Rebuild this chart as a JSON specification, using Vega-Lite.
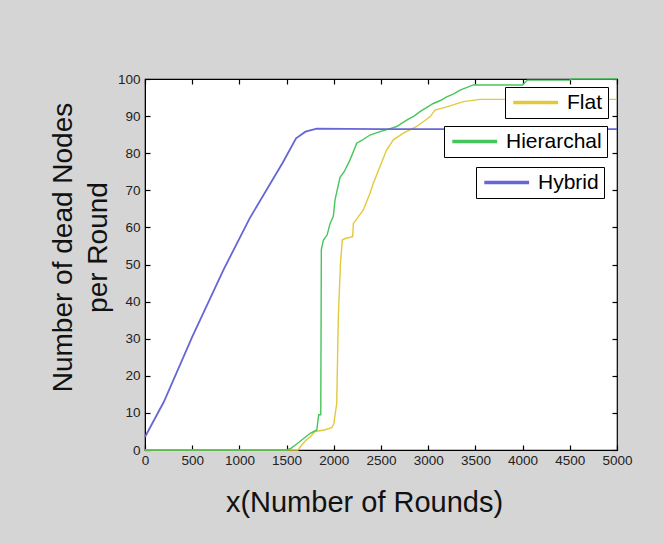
{
  "$schema": "https://vega.github.io/schema/vega-lite/v6.json",
  "autosize": {"type": "none"},
  "width": 472,
  "height": 371,
  "padding": {"left": 145, "top": 79, "right": 46, "bottom": 94},
  "background": "#d5d5d5",
  "config": {
    "view": {"stroke": "#000", "strokeWidth": 1.2, "fill": "#ffffff"},
    "axis": {
      "grid": false,
      "domainColor": "#000",
      "tickColor": "#000",
      "tickSize": -5,
      "tickWidth": 1.2,
      "labelFont": "Liberation Sans",
      "labelFontSize": 13.5,
      "labelColor": "#222",
      "labelFlush": false,
      "labelOverlap": false,
      "format": "d",
      "titleFont": "Liberation Sans",
      "titleColor": "#111",
      "titleFontWeight": "normal"
    },
    "legend": {
      "orient": "none",
      "title": null,
      "symbolType": "M -0.9 0 L 4.7 0",
      "symbolSize": 256,
      "symbolStrokeWidth": 3.5,
      "labelFont": "Liberation Sans",
      "labelFontSize": 21,
      "labelColor": "#000",
      "labelOffset": 36,
      "strokeColor": "#000",
      "fillColor": "#ffffff",
      "padding": 5
    }
  },
  "datasets": {
    "d": [
      {"series": "Flat", "x": 0, "y": 0},
      {"series": "Flat", "x": 1620, "y": 0},
      {"series": "Flat", "x": 1650, "y": 1},
      {"series": "Flat", "x": 1700, "y": 2.5},
      {"series": "Flat", "x": 1750, "y": 3.5},
      {"series": "Flat", "x": 1800, "y": 5},
      {"series": "Flat", "x": 1900, "y": 5.4},
      {"series": "Flat", "x": 1977, "y": 6},
      {"series": "Flat", "x": 2000, "y": 7},
      {"series": "Flat", "x": 2031, "y": 12.6},
      {"series": "Flat", "x": 2048, "y": 36},
      {"series": "Flat", "x": 2070, "y": 50},
      {"series": "Flat", "x": 2090, "y": 56.6},
      {"series": "Flat", "x": 2119, "y": 57},
      {"series": "Flat", "x": 2200, "y": 57.5},
      {"series": "Flat", "x": 2207, "y": 61},
      {"series": "Flat", "x": 2313, "y": 64.7},
      {"series": "Flat", "x": 2383, "y": 69.2},
      {"series": "Flat", "x": 2419, "y": 71.9},
      {"series": "Flat", "x": 2489, "y": 76.4},
      {"series": "Flat", "x": 2560, "y": 80.9},
      {"series": "Flat", "x": 2631, "y": 83.6},
      {"series": "Flat", "x": 2737, "y": 85.4},
      {"series": "Flat", "x": 2878, "y": 87.2},
      {"series": "Flat", "x": 3019, "y": 89.8},
      {"series": "Flat", "x": 3072, "y": 91.6},
      {"series": "Flat", "x": 3196, "y": 92.5},
      {"series": "Flat", "x": 3372, "y": 93.9},
      {"series": "Flat", "x": 3549, "y": 94.5},
      {"series": "Flat", "x": 5000, "y": 94.5},
      {"series": "Hierarchal", "x": 0, "y": 0},
      {"series": "Hierarchal", "x": 1500, "y": 0},
      {"series": "Hierarchal", "x": 1550, "y": 0.5},
      {"series": "Hierarchal", "x": 1600, "y": 1.5},
      {"series": "Hierarchal", "x": 1650, "y": 2.5},
      {"series": "Hierarchal", "x": 1700, "y": 3.5},
      {"series": "Hierarchal", "x": 1750, "y": 4.5},
      {"series": "Hierarchal", "x": 1820, "y": 5.4},
      {"series": "Hierarchal", "x": 1840, "y": 9.5},
      {"series": "Hierarchal", "x": 1862, "y": 9.5},
      {"series": "Hierarchal", "x": 1868, "y": 54},
      {"series": "Hierarchal", "x": 1890, "y": 56.6},
      {"series": "Hierarchal", "x": 1930, "y": 58},
      {"series": "Hierarchal", "x": 1960, "y": 61},
      {"series": "Hierarchal", "x": 1995, "y": 63},
      {"series": "Hierarchal", "x": 2013, "y": 67.4},
      {"series": "Hierarchal", "x": 2066, "y": 73.5},
      {"series": "Hierarchal", "x": 2110, "y": 75},
      {"series": "Hierarchal", "x": 2172, "y": 78.2},
      {"series": "Hierarchal", "x": 2243, "y": 82.7},
      {"series": "Hierarchal", "x": 2300, "y": 83.5},
      {"series": "Hierarchal", "x": 2383, "y": 84.9},
      {"series": "Hierarchal", "x": 2489, "y": 85.8},
      {"series": "Hierarchal", "x": 2580, "y": 86.5},
      {"series": "Hierarchal", "x": 2666, "y": 87.2},
      {"series": "Hierarchal", "x": 2772, "y": 88.9},
      {"series": "Hierarchal", "x": 2850, "y": 90},
      {"series": "Hierarchal", "x": 2913, "y": 91.2},
      {"series": "Hierarchal", "x": 3054, "y": 93.4},
      {"series": "Hierarchal", "x": 3130, "y": 94.2},
      {"series": "Hierarchal", "x": 3196, "y": 95.2},
      {"series": "Hierarchal", "x": 3270, "y": 96},
      {"series": "Hierarchal", "x": 3337, "y": 97},
      {"series": "Hierarchal", "x": 3478, "y": 98.4},
      {"series": "Hierarchal", "x": 4000, "y": 98.4},
      {"series": "Hierarchal", "x": 4050, "y": 99.7},
      {"series": "Hierarchal", "x": 4500, "y": 99.7},
      {"series": "Hierarchal", "x": 4520, "y": 100},
      {"series": "Hierarchal", "x": 5000, "y": 100},
      {"series": "Hybrid", "x": 0, "y": 3.5},
      {"series": "Hybrid", "x": 200, "y": 13},
      {"series": "Hybrid", "x": 500, "y": 30.5},
      {"series": "Hybrid", "x": 830, "y": 48.5},
      {"series": "Hybrid", "x": 1110, "y": 62.5},
      {"series": "Hybrid", "x": 1460, "y": 77.5},
      {"series": "Hybrid", "x": 1600, "y": 84},
      {"series": "Hybrid", "x": 1700, "y": 85.8},
      {"series": "Hybrid", "x": 1820, "y": 86.6},
      {"series": "Hybrid", "x": 2500, "y": 86.5},
      {"series": "Hybrid", "x": 5000, "y": 86.5}
    ]
  },
  "layer": [
    {
      "data": {"name": "d"},
      "transform": [{"filter": "datum.series === 'Flat'"}],
      "mark": {"type": "line", "strokeWidth": 1.4},
      "encoding": {
        "x": {
          "field": "x", "type": "quantitative",
          "scale": {"domain": [0, 5000], "nice": false},
          "axis": {
            "orient": "bottom",
            "values": [0, 500, 1000, 1500, 2000, 2500, 3000, 3500, 4000, 4500, 5000],
            "labelPadding": 8,
            "title": "x(Number of Rounds)",
            "titleFontSize": 29,
            "titleX": 219,
            "titleY": 61,
            "titleAlign": "center",
            "titleBaseline": "alphabetic"
          }
        },
        "y": {
          "field": "y", "type": "quantitative",
          "scale": {"domain": [0, 100], "nice": false},
          "axis": {
            "orient": "left",
            "values": [0, 10, 20, 30, 40, 50, 60, 70, 80, 90, 100],
            "labelPadding": 10,
            "title": ["Number of dead Nodes", "per Round"],
            "titleFontSize": 28,
            "titleLineHeight": 35,
            "titleAngle": 270,
            "titleX": -74,
            "titleY": 168,
            "titleAlign": "center",
            "titleBaseline": "alphabetic"
          }
        },
        "color": {
          "field": "series", "type": "nominal",
          "scale": {"domain": ["Flat"], "range": ["#e2c93c"]},
          "legend": {"legendX": 360, "legendY": 8}
        }
      }
    },
    {
      "data": {"name": "d"},
      "transform": [{"filter": "datum.series === 'Hierarchal'"}],
      "mark": {"type": "line", "strokeWidth": 1.4},
      "encoding": {
        "x": {"field": "x", "type": "quantitative", "scale": {"domain": [0, 5000], "nice": false}, "axis": null},
        "y": {"field": "y", "type": "quantitative", "scale": {"domain": [0, 100], "nice": false}, "axis": null},
        "color": {
          "field": "series", "type": "nominal",
          "scale": {"domain": ["Hierarchal"], "range": ["#45c65a"]},
          "legend": {"legendX": 299, "legendY": 47}
        }
      }
    },
    {
      "data": {"name": "d"},
      "transform": [{"filter": "datum.series === 'Hybrid'"}],
      "mark": {"type": "line", "strokeWidth": 1.8},
      "encoding": {
        "x": {"field": "x", "type": "quantitative", "scale": {"domain": [0, 5000], "nice": false}, "axis": null},
        "y": {"field": "y", "type": "quantitative", "scale": {"domain": [0, 100], "nice": false}, "axis": null},
        "color": {
          "field": "series", "type": "nominal",
          "scale": {"domain": ["Hybrid"], "range": ["#6666d6"]},
          "legend": {"legendX": 331, "legendY": 88}
        }
      }
    },
    {
      "data": {"name": "d"},
      "mark": {"type": "point", "opacity": 0},
      "encoding": {
        "x": {
          "field": "x", "type": "quantitative",
          "scale": {"domain": [0, 5000], "nice": false},
          "axis": {"orient": "top", "labels": false, "title": null, "domain": false,
                   "values": [0, 500, 1000, 1500, 2000, 2500, 3000, 3500, 4000, 4500, 5000]}
        },
        "y": {
          "field": "y", "type": "quantitative",
          "scale": {"domain": [0, 100], "nice": false},
          "axis": {"orient": "right", "labels": false, "title": null, "domain": false,
                   "values": [0, 10, 20, 30, 40, 50, 60, 70, 80, 90, 100]}
        }
      }
    }
  ],
  "resolve": {
    "scale": {"color": "independent"},
    "axis": {"x": "independent", "y": "independent"}
  }
}
